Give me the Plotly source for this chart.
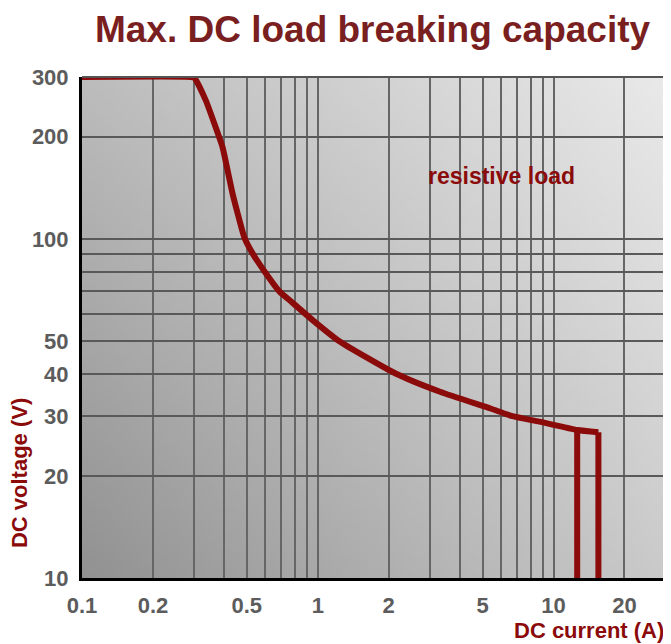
import base64
import math
import struct
import zlib

import plotly.graph_objects as go

# ---------------- data ----------------
current_A = [0.1, 0.29, 0.3, 0.335, 0.364, 0.394, 0.414, 0.435, 0.457, 0.488, 0.529,
             0.603, 0.687, 0.758, 0.951, 1.23, 2.15, 3.3, 5.4, 6.7, 8.7, 12.6, 15.5]
voltage_V = [300, 300, 298, 256, 219, 187, 160, 136, 119, 101, 90.6,
             79, 70, 66, 57.6, 50, 40, 35.4, 31.6, 30, 28.9, 27.3, 26.9]

right_drop_current_A = [15.5, 15.5]
right_drop_voltage_V = [26.9, 10]
left_drop_current_A = [12.6, 12.6]
left_drop_voltage_V = [27.3, 10]

x_grid_vals = [0.1, 0.2, 0.3, 0.4, 0.5, 0.6, 0.7, 0.8, 0.9, 1, 2, 3, 4, 5, 6, 7, 8, 9, 10, 20, 30]
x_tick_labels = ["0.1", "0.2", "", "", "0.5", "", "", "", "", "1", "2", "", "", "5",
                 "", "", "", "", "10", "20", ""]
y_grid_vals = [10, 20, 30, 40, 50, 60, 70, 80, 90, 100, 200, 300]
y_tick_labels = ["10", "20", "30", "40", "50", "", "", "", "", "100", "200", "300"]

x_range = [0.1, 30]
y_range = [10, 300]

title_text = "Max. DC load breaking capacity"
note_text = "resistive load"
x_title = "DC current (A)"
y_title = "DC voltage (V)"

# ---------------- styling ----------------
RED = "#8b0a0a"
TICK_GRAY = "#5c5c5c"
FONT = "Arial, Liberation Sans, sans-serif"


def gradient_png(w, h, bl, br, tl, tr):
    raw = bytearray()
    for j in range(h):
        v = 1 - j / (h - 1)
        raw.append(0)
        for i in range(w):
            u = i / (w - 1)
            val = (bl * (1 - u) * (1 - v) + br * u * (1 - v)
                   + tl * (1 - u) * v + tr * u * v)
            raw.append(max(0, min(255, int(round(val)))))

    def chunk(tag, data):
        return (struct.pack(">I", len(data)) + tag + data
                + struct.pack(">I", zlib.crc32(tag + data) & 0xFFFFFFFF))

    png = b"\x89PNG\r\n\x1a\n"
    png += chunk(b"IHDR", struct.pack(">IIBBBBB", w, h, 8, 0, 0, 0, 0))
    png += chunk(b"IDAT", zlib.compress(bytes(raw), 9))
    png += chunk(b"IEND", b"")
    return "data:image/png;base64," + base64.b64encode(png).decode()


bg_src = gradient_png(64, 64, bl=146, br=202, tl=188, tr=233)

fig = go.Figure()

fig.add_trace(go.Scatter(x=current_A, y=voltage_V, mode="lines",
                         line=dict(color=RED, width=6, shape="spline", smoothing=0.5),
                         cliponaxis=False, showlegend=False))
fig.add_trace(go.Scatter(x=right_drop_current_A, y=right_drop_voltage_V, mode="lines",
                         line=dict(color=RED, width=6),
                         cliponaxis=False, showlegend=False))
fig.add_trace(go.Scatter(x=left_drop_current_A, y=left_drop_voltage_V, mode="lines",
                         line=dict(color=RED, width=6),
                         cliponaxis=False, showlegend=False))

# page body has an 8px margin: figure is shifted accordingly
fig.update_layout(
    width=663, height=636,
    margin=dict(l=74, r=5, t=69, b=66),
    paper_bgcolor="white",
    plot_bgcolor="rgba(0,0,0,0)",
    showlegend=False,
    title=dict(text=title_text, xref="container", yref="container",
               x=0.5498, y=0.9662, xanchor="center", yanchor="middle",
               font=dict(family=FONT, size=37, color="#7a1f1f", weight="bold")),
    images=[dict(source=bg_src, xref="paper", yref="paper", x=0, y=1,
                 sizex=1, sizey=1, xanchor="left", yanchor="top",
                 sizing="stretch", layer="below")],
    xaxis=dict(type="log", range=[math.log10(x_range[0]), math.log10(x_range[1])],
               tickmode="array", tickvals=x_grid_vals, ticktext=x_tick_labels,
               showgrid=True, gridcolor="#666666", gridwidth=1.5,
               ticks="outside", ticklen=6, tickcolor="rgba(0,0,0,0)",
               tickfont=dict(family=FONT, size=22, color=TICK_GRAY, weight="bold"),
               showline=True, linecolor="black", linewidth=3,
               zeroline=False),
    yaxis=dict(type="log", range=[math.log10(y_range[0]), math.log10(y_range[1])],
               tickmode="array", tickvals=y_grid_vals, ticktext=y_tick_labels,
               showgrid=True, gridcolor="#595959", gridwidth=1.5,
               ticks="outside", ticklen=6, tickcolor="rgba(0,0,0,0)",
               tickfont=dict(family=FONT, size=22, color=TICK_GRAY, weight="bold"),
               showline=True, linecolor="black", linewidth=3,
               zeroline=False),
    shapes=[
        dict(type="line", xref="paper", yref="paper", x0=0, x1=1, y0=1, y1=1,
             line=dict(color="#555555", width=2), layer="above"),
        dict(type="line", xref="paper", yref="paper", x0=1, x1=1, y0=0, y1=1,
             line=dict(color="#555555", width=2), layer="above"),
    ],
    annotations=[
        dict(text=note_text, xref="x", yref="y", x=math.log10(6), y=math.log10(153),
             xanchor="center", yanchor="middle", showarrow=False,
             font=dict(family=FONT, size=23, color=RED, weight="bold")),
        dict(text=x_title, xref="paper", yref="paper", x=1.0, y=-0.1046,
             xanchor="right", yanchor="middle", showarrow=False,
             font=dict(family=FONT, size=22, color=RED, weight="bold")),
        dict(text=y_title, xref="paper", yref="paper", x=-0.106, y=0.2096,
             xanchor="center", yanchor="middle", showarrow=False, textangle=-90,
             font=dict(family=FONT, size=22, color=RED, weight="bold")),
    ],
)

fig.write_html("out.html")
